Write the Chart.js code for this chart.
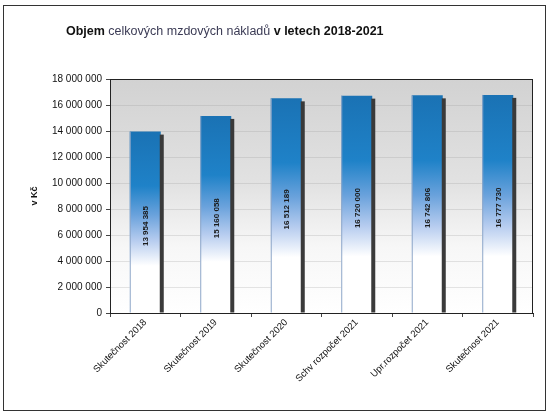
<!DOCTYPE html>
<html lang="cs">
<head>
    <meta charset="UTF-8">
    <title>Objem celkových mzdových nákladů</title>
    <script src="https://cdn.jsdelivr.net/npm/chart.js"></script>
    <style>
        html, body { margin: 0; padding: 0; background: #fff; }
        .wrap { position: relative; width: 549px; height: 416px; }
        .frame {
            position: absolute; left: 3px; top: 5px; width: 543px; height: 406px;
            border: 1px solid #333; box-sizing: border-box; pointer-events: none;
        }
    </style>
</head>
<body>
<div class="wrap">
    <canvas id="chart" width="549" height="416"></canvas>
    <div class="frame"></div>
</div>
<script>
    // categories and values (v Kč)
    var categories = ['Skutečnost 2018', 'Skutečnost 2019', 'Skutečnost 2020',
        'Schv rozpočet 2021', 'Upr.rozpočet 2021', 'Skutečnost 2021'];
    var costs = [13954385, 15160058, 16512189, 16720000, 16742806, 16777730];
    var valueLabels = ['13 954 385', '15 160 058', '16 512 189', '16 720 000', '16 742 806', '16 777 730'];
    var yTicks = [0, 2000000, 4000000, 6000000, 8000000, 10000000, 12000000, 14000000, 16000000, 18000000];

    function fmt(v) {
        return String(v).replace(/\B(?=(\d{3})+(?!\d))/g, ' ');
    }

    // gradient per bar, from its top down to the baseline
    function barFill(ctx) {
        var chart = ctx.chart;
        if (!chart.chartArea || ctx.parsed === undefined) return '#1e7fc1';
        var y = chart.scales.y;
        var top = y.getPixelForValue(ctx.parsed.y);
        var bottom = y.getPixelForValue(0);
        var g = chart.ctx.createLinearGradient(0, top, 0, bottom);
        g.addColorStop(0, '#1a72b4');
        g.addColorStop(0.3, '#1f82c8');
        g.addColorStop(0.46, '#6aa2dc');
        g.addColorStop(0.6, '#b6ccef');
        g.addColorStop(0.74, '#ffffff');
        g.addColorStop(1, '#ffffff');
        return g;
    }

    var decor = {
        id: 'decor',
        beforeDraw: function (chart) {
            var a = chart.chartArea, c = chart.ctx;
            var g = c.createLinearGradient(0, a.top, 0, a.bottom);
            g.addColorStop(0, '#d2d2d2');
            g.addColorStop(0.45, '#e2e2e2');
            g.addColorStop(0.72, '#f7f7f7');
            g.addColorStop(1, '#ffffff');
            c.save();
            c.fillStyle = g;
            c.fillRect(a.left, a.top, a.right - a.left, a.bottom - a.top);
            c.restore();
        },
        afterDatasetsDraw: function (chart) {
            var c = chart.ctx, a = chart.chartArea;
            var meta = chart.getDatasetMeta(0);
            c.save();
            meta.data.forEach(function (bar, i) {
                // dark side edge
                c.fillStyle = '#3a3a3a';
                c.fillRect(bar.x + bar.width / 2 - 1, bar.y + 3, 4, bar.base - bar.y - 3);
                // thin left edge
                c.fillStyle = '#8ea6c8';
                c.fillRect(bar.x - bar.width / 2, bar.y, 1, bar.base - bar.y);
                // value label, rotated
                c.save();
                c.translate(bar.x + 1, (bar.y + bar.base) / 2 + 4);
                c.rotate(-Math.PI / 2);
                c.fillStyle = '#1a1a1a';
                c.font = 'bold 8px "Liberation Sans", Arial, sans-serif';
                c.textAlign = 'center';
                c.textBaseline = 'middle';
                c.fillText(valueLabels[i], 0, 0);
                c.restore();
            });
            // plot frame
            c.strokeStyle = '#222';
            c.lineWidth = 1;
            c.strokeRect(a.left + 0.5, a.top + 0.5, a.right - a.left - 1, a.bottom - a.top);
            c.restore();
        },
        afterDraw: function (chart) {
            var c = chart.ctx;
            c.save();
            c.textBaseline = 'alphabetic';
            c.textAlign = 'left';
            var parts = [
                ['bold 12.5px "Liberation Sans", Arial, sans-serif', '#111', 'Objem '],
                ['12.5px "Liberation Sans", Arial, sans-serif', '#3b3b55', 'celkových mzdových nákladů '],
                ['bold 12.5px "Liberation Sans", Arial, sans-serif', '#111', 'v letech 2018-2021']
            ];
            var x = 66;
            parts.forEach(function (p) {
                c.font = p[0];
                c.fillStyle = p[1];
                c.fillText(p[2], x, 35);
                x += c.measureText(p[2]).width;
            });
            c.restore();
        }
    };

    new Chart(document.getElementById('chart'), {
        type: 'bar',
        data: {
            labels: categories,
            datasets: [{
                label: 'Objem',
                data: costs,
                backgroundColor: barFill,
                borderWidth: 0,
                barPercentage: 0.44,
                categoryPercentage: 1
            }]
        },
        options: {
            responsive: false,
            animation: false,
            layout: { padding: { left: 29, right: 16, top: 79, bottom: 0 } },
            plugins: {
                legend: { display: false },
                tooltip: { enabled: false }
            },
            scales: {
                x: {
                    grid: {
                        display: true, offset: true, drawOnChartArea: false,
                        tickLength: 4, color: '#444'
                    },
                    border: { color: '#222' },
                    ticks: {
                        color: '#111', maxRotation: 45, minRotation: 45, padding: 0,
                        font: { family: '"Liberation Sans", Arial, sans-serif', size: 9.5 }
                    },
                    afterFit: function (s) { s.height = 103; }
                },
                y: {
                    min: 0, max: 18000000,
                    afterBuildTicks: function (s) {
                        s.ticks = yTicks.map(function (v) { return { value: v }; });
                    },
                    grid: { color: 'rgba(150,150,150,0.25)', tickLength: 4, tickColor: '#444' },
                    border: { color: '#222' },
                    ticks: {
                        color: '#111', padding: 4,
                        font: { family: '"Liberation Sans", Arial, sans-serif', size: 10 }
                    ,
                        callback: function (v) { return fmt(v); }
                    },
                    title: {
                        display: true, text: 'v Kč', color: '#111', padding: { top: 0, bottom: 14 },
                        font: { family: '"Liberation Sans", Arial, sans-serif', size: 9, weight: 'bold' }
                    },
                    afterFit: function (s) { s.width = 81; }
                }
            }
        },
        plugins: [decor]
    });
</script>
</body>
</html>
